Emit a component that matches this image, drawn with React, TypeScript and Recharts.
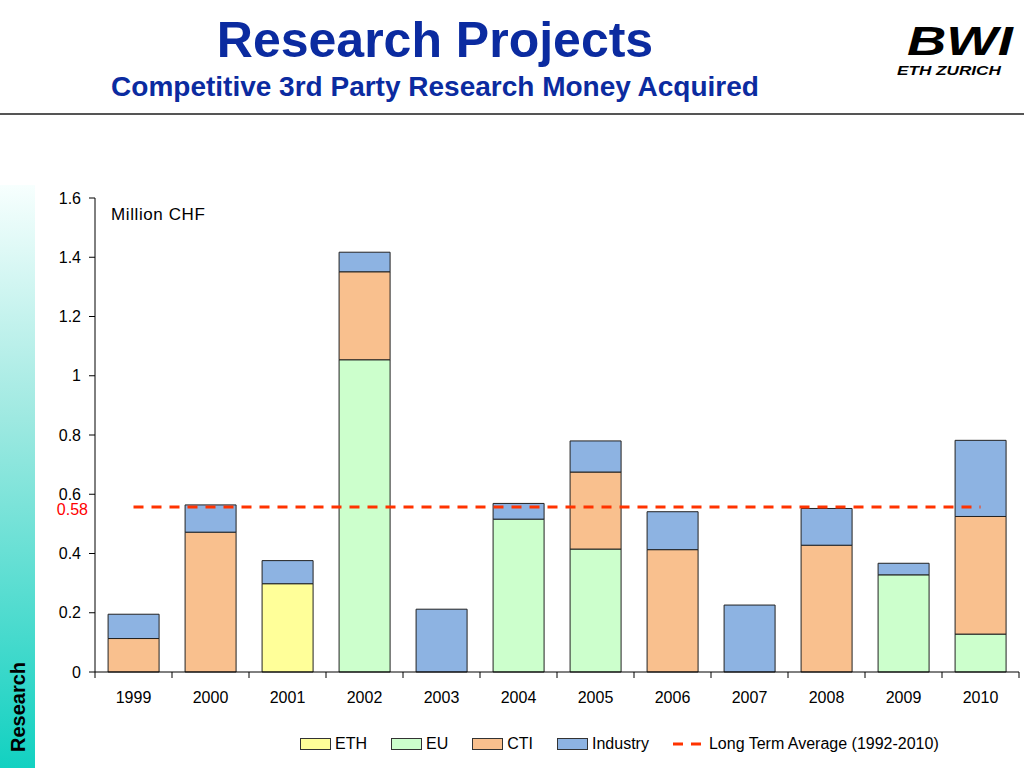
import React from "react";
import { ComposedChart, Bar, Line, XAxis, YAxis } from "recharts";

const years = ["1999", "2000", "2001", "2002", "2003", "2004", "2005", "2006", "2007", "2008", "2009", "2010"];
const eth = [0, 0, 0.298, 0, 0, 0, 0, 0, 0, 0, 0, 0];
const eu = [0, 0, 0, 1.054, 0, 0.516, 0.415, 0, 0, 0, 0.328, 0.128];
const cti = [0.113, 0.472, 0, 0.297, 0, 0, 0.26, 0.413, 0, 0.428, 0, 0.397];
const industry = [0.082, 0.092, 0.078, 0.066, 0.212, 0.053, 0.105, 0.128, 0.226, 0.124, 0.039, 0.257];
const longTermAverage = 0.557;
const yTicks = [0, 0.2, 0.4, 0.6, 0.8, 1, 1.2, 1.4, 1.6];

const series = [
  { key: "eth", label: "ETH", color: "#FFFF99" },
  { key: "eu", label: "EU", color: "#CCFFCC" },
  { key: "cti", label: "CTI", color: "#F9C08E" },
  { key: "industry", label: "Industry", color: "#8DB3E2" },
];

const data = years.map((year, i) => ({
  year,
  eth: eth[i],
  eu: eu[i],
  cti: cti[i],
  industry: industry[i],
  avg: longTermAverage,
}));

const FONT = "'Liberation Sans', Arial, sans-serif";

// x tick: label at centre, small tick marks at the category edges
const YearTick = (props: any) => {
  const { x, y, payload, index } = props;
  const half = payload.offset || 0;
  const axisY = y - 20;
  return (
    <g>
      <line x1={x - half} x2={x - half} y1={axisY} y2={axisY + 6} stroke="#000" />
      {index === years.length - 1 && (
        <line x1={x + half} x2={x + half} y1={axisY} y2={axisY + 6} stroke="#000" />
      )}
      <text x={x} y={y} dy="0.71em" textAnchor="middle" fontSize={16} fill="#000" fontFamily={FONT}>
        {payload.value}
      </text>
    </g>
  );
};

export default function App() {
  return (
    <div
      style={{
        position: "absolute",
        left: 0,
        top: 0,
        width: 1024,
        height: 768,
        background: "#fff",
        fontFamily: FONT,
        overflow: "hidden",
      }}
    >
      {/* left strip */}
      <div
        style={{
          position: "absolute",
          left: 0,
          top: 185,
          width: 35,
          height: 583,
          background: "linear-gradient(to bottom, #F7FFFE 0%, #9EE9E1 40%, #12D1C1 100%)",
        }}
      />
      <div
        style={{
          position: "absolute",
          left: 18,
          top: 707,
          transform: "translate(-50%, -50%) rotate(-90deg)",
          fontWeight: "bold",
          fontSize: 20,
          color: "#000",
          whiteSpace: "nowrap",
        }}
      >
        Research
      </div>

      {/* header */}
      <div
        style={{
          position: "absolute",
          left: 0,
          top: 12,
          width: 870,
          textAlign: "center",
          color: "#0B2BA0",
          fontWeight: "bold",
          fontSize: 50,
          lineHeight: "56px",
        }}
      >
        Research Projects
      </div>
      <div
        style={{
          position: "absolute",
          left: 0,
          top: 70,
          width: 870,
          textAlign: "center",
          color: "#0B2BA0",
          fontWeight: "bold",
          fontSize: 28,
          lineHeight: "34px",
        }}
      >
        Competitive 3rd Party Research Money Acquired
      </div>

      {/* logo */}
      <div
        style={{
          position: "absolute",
          left: 907,
          top: 23,
          fontWeight: "bold",
          fontStyle: "italic",
          fontSize: 40,
          lineHeight: "36px",
          color: "#000",
          transform: "scaleX(1.36)",
          transformOrigin: "left top",
          whiteSpace: "nowrap",
        }}
      >
        BWI
      </div>
      <div
        style={{
          position: "absolute",
          left: 897,
          top: 64,
          fontWeight: "bold",
          fontStyle: "italic",
          fontSize: 13,
          lineHeight: "13px",
          color: "#000",
          transform: "scaleX(1.32)",
          transformOrigin: "left top",
          whiteSpace: "nowrap",
        }}
      >
        ETH ZURICH
      </div>

      <div
        style={{
          position: "absolute",
          left: 0,
          top: 113,
          width: 1024,
          height: 2,
          background: "#555",
        }}
      />

      <div style={{ position: "absolute", left: 0, top: 0 }}>
        <ComposedChart
          width={1024}
          height={768}
          data={data}
          margin={{ top: 198, right: 5, bottom: 66, left: 35 }}
          barCategoryGap="17%"
        >
          <XAxis
            dataKey="year"
            height={30}
            axisLine={{ stroke: "#000" }}
            tickLine={false}
            tickSize={6}
            tickMargin={14}
            tick={<YearTick />}
            interval={0}
          />
          <YAxis
            width={60}
            domain={[0, 1.6]}
            ticks={yTicks}
            interval={0}
            axisLine={{ stroke: "#000" }}
            tickLine={{ stroke: "#000" }}
            tickSize={6}
            tickMargin={8}
            tick={{ fontSize: 16, fill: "#000", fontFamily: FONT }}
            tickFormatter={(v: number) => String(v)}
          />
          {series.map((s) => (
            <Bar
              key={s.key}
              dataKey={s.key}
              stackId="a"
              fill={s.color}
              stroke="#222"
              strokeWidth={1}
              isAnimationActive={false}
            />
          ))}
          <Line
            dataKey="avg"
            stroke="#FF3300"
            strokeWidth={3}
            strokeDasharray="10 8"
            dot={false}
            activeDot={false}
            isAnimationActive={false}
          />
        </ComposedChart>
      </div>

      <div
        style={{
          position: "absolute",
          left: 111,
          top: 205,
          fontSize: 17,
          letterSpacing: 0.6,
          color: "#000",
        }}
      >
        Million CHF
      </div>
      <div
        style={{
          position: "absolute",
          right: 1024 - 88,
          top: 501,
          fontSize: 16,
          lineHeight: "17px",
          color: "#FF0000",
        }}
      >
        0.58
      </div>

      {/* legend */}
      <div
        style={{
          position: "absolute",
          left: 300,
          top: 735,
          display: "flex",
          alignItems: "center",
          fontSize: 16,
          color: "#000",
          whiteSpace: "nowrap",
        }}
      >
        {series.map((s) => (
          <div key={s.key} style={{ display: "flex", alignItems: "center", marginRight: 24 }}>
            <div
              style={{
                width: 29,
                height: 10,
                background: s.color,
                border: "1px solid #333",
                marginRight: 4,
              }}
            />
            <span>{s.label}</span>
          </div>
        ))}
        <div style={{ display: "flex", alignItems: "center" }}>
          <svg width={28} height={10} style={{ marginRight: 8 }}>
            <line x1={0} x2={28} y1={5} y2={5} stroke="#FF3300" strokeWidth={3} strokeDasharray="10 8" />
          </svg>
          <span>Long Term Average (1992-2010)</span>
        </div>
      </div>
    </div>
  );
}
